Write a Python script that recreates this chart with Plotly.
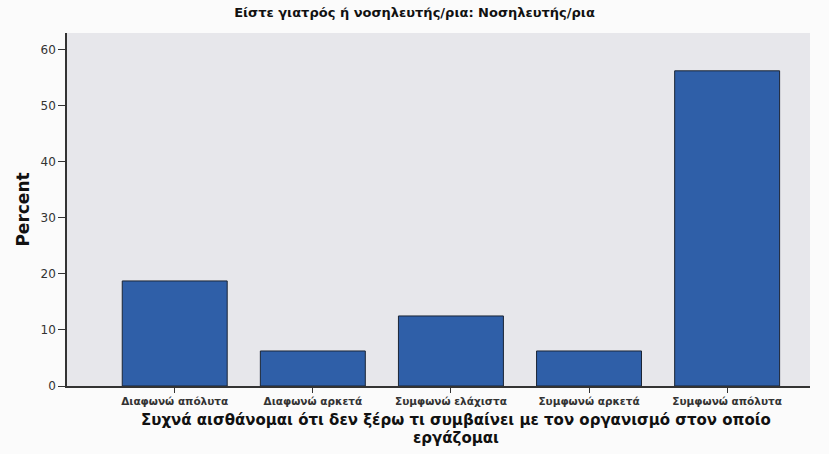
import plotly.graph_objects as go

categories = ["Διαφωνώ απόλυτα", "Διαφωνώ αρκετά", "Συμφωνώ ελάχιστα", "Συμφωνώ αρκετά", "Συμφωνώ απόλυτα"]
percent = [18.75, 6.25, 12.5, 6.25, 56.25]
y_ticks = [0, 10, 20, 30, 40, 50, 60]
title_text = "Είστε γιατρός ή νοσηλευτής/ρια: Νοσηλευτής/ρια"
x_title_lines = ["Συχνά αισθάνομαι ότι δεν ξέρω τι συμβαίνει με τον οργανισμό στον οποίο", "εργάζομαι"]
y_title = "Percent"

H = 454
fig = go.Figure(go.Bar(
    x=list(range(len(categories))), y=percent,
    marker=dict(color="#2f5fa8", line=dict(color="#1b2535", width=1)),
))

fig.update_layout(
    width=829, height=H,
    margin=dict(l=67, r=19, t=33, b=68, autoexpand=False),
    paper_bgcolor="#fbfbfb", plot_bgcolor="#e7e7eb",
    bargap=0.24, showlegend=False,
    font=dict(family="DejaVu Sans, sans-serif", color="#222"),
    title=dict(text="<b>" + title_text + "</b>", x=0.5, xanchor="center", y=1 - 12 / H, yanchor="middle",
               font=dict(size=13, color="#111")),
    xaxis=dict(
        tickmode="array", tickvals=list(range(len(categories))),
        ticktext=["<b>" + c + "</b>" for c in categories],
        range=[-0.78, 4.6], showgrid=False, zeroline=False, automargin=False,
        showline=True, linecolor="#333", linewidth=1.5,
        ticks="outside", ticklen=5, tickcolor="#333",
        tickfont=dict(size=10.5, color="#333"),
    ),
    yaxis=dict(
        tickmode="array", tickvals=y_ticks, range=[0, 63],
        showgrid=False, zeroline=False, automargin=False,
        showline=True, linecolor="#333", linewidth=1.5,
        ticks="outside", ticklen=7, tickcolor="#333",
        tickfont=dict(size=12, color="#333"),
        title=dict(text="<b>" + y_title + "</b>", font=dict(size=17, color="#111"), standoff=7),
    ),
)

for line, ypx in zip(x_title_lines, [420, 438]):
    fig.add_annotation(
        text="<b>" + line + "</b>", xref="paper", yref="paper",
        x=(456 - 67) / (829 - 67 - 19), y=(H - ypx - 68) / (H - 33 - 68),
        xanchor="center", yanchor="middle", showarrow=False,
        font=dict(size=15, color="#111"),
    )

fig.write_html("out.html", config={"displayModeBar": False},
               post_script="document.body.style.margin='0';")
